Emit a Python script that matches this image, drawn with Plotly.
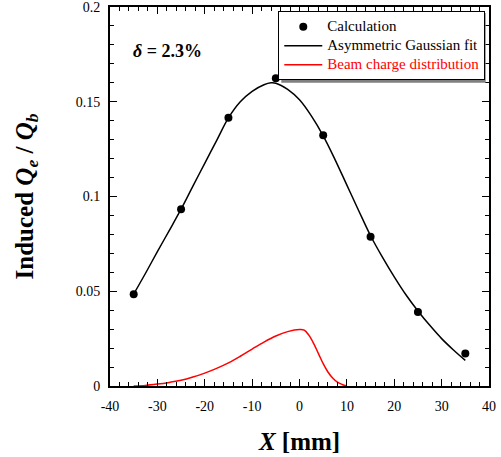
import plotly.graph_objects as go

# Calculation points
calc_x = [-35, -25, -15, -5, 5, 15, 25, 35]
calc_y = [0.0484, 0.0933, 0.1416, 0.1624, 0.1323, 0.0787, 0.0391, 0.0171]

# Asymmetric Gaussian fit
fit_x = [-35, -32.5, -30, -27.5, -25, -22.5, -20, -17.5, -15, -12.5, -10, -7.5, -6, -5,
         -2.5, 0, 2.5, 5, 7.5, 10, 12.5, 15, 17.5, 20, 22.5, 25, 27.5, 30, 32.5, 35]
fit_y = [0.0485, 0.0595, 0.0709, 0.0820, 0.0933, 0.1055, 0.1175, 0.1295, 0.1415, 0.1500,
         0.1555, 0.1590, 0.1600, 0.1598, 0.1565, 0.1510, 0.1425, 0.1320, 0.1195, 0.1060,
         0.0925, 0.0793, 0.0680, 0.0576, 0.0480, 0.0396, 0.0320, 0.0250, 0.0190, 0.0135]

# Beam charge distribution
beam_x = [-35, -32.5, -30, -27.5, -25, -22.5, -20, -17.5, -15, -12.5, -10, -7.5, -5, -2.5,
          0, 1, 2, 3, 4, 5, 6, 7, 8, 9, 10]
beam_y = [0.0, 0.0003, 0.0010, 0.0019, 0.0030, 0.0047, 0.0068, 0.0093, 0.0122, 0.0157,
          0.0195, 0.0232, 0.0264, 0.0287, 0.0298, 0.0295, 0.0267, 0.0224, 0.0171, 0.0118,
          0.0074, 0.0042, 0.0020, 0.0008, 0.0]

x_ticks = [-40, -30, -20, -10, 0, 10, 20, 30, 40]
x_tick_labels = ["-40", "-30", "-20", "-10", "0", "10", "20", "30", "40"]
y_ticks = [0, 0.05, 0.1, 0.15, 0.2]
y_tick_labels = ["0", "0.05", "0.1", "0.15", "0.2"]

FONT = "Liberation Serif"


def big(name, color="black"):
    return f'<span style="font-size:15px;color:{color}">{name}</span>'


fig = go.Figure()
fig.add_trace(go.Scatter(x=calc_x, y=calc_y, mode="markers", name=big("Calculation"),
                         marker=dict(color="black", size=8)))
fig.add_trace(go.Scatter(x=fit_x, y=fit_y, mode="lines", name=big("Asymmetric Gaussian fit"),
                         line=dict(color="black", width=1.5, shape="spline")))
fig.add_trace(go.Scatter(x=beam_x, y=beam_y, mode="lines",
                         name=big("Beam charge distribution", "red"),
                         line=dict(color="red", width=1.5, shape="spline")))

axis_common = dict(showgrid=False, zeroline=False, showline=True, linecolor="black",
                   linewidth=2, mirror="allticks", ticks="inside", ticklen=7,
                   tickwidth=1, tickcolor="black", automargin=False,
                   ticklabeloverflow="allow",
                   tickfont=dict(family=FONT, size=14, color="black"))

fig.update_xaxes(range=[-40, 40], tickvals=x_ticks, ticktext=x_tick_labels,
                 ticklabelstandoff=6,
                 minor=dict(ticks="inside", dtick=2, ticklen=4, tickcolor="black"),
                 title=dict(text="<b><i>X</i> [mm]</b>",
                            font=dict(family=FONT, size=25, color="black"), standoff=20),
                 **axis_common)
fig.update_yaxes(range=[0, 0.2], tickvals=y_ticks, ticktext=y_tick_labels,
                 ticklabelstandoff=5,
                 minor=dict(ticks="inside", dtick=0.01, ticklen=4, tickcolor="black"),
                 title=dict(text="<b>Induced <i>Q</i><sub><i>e</i></sub> / <i>Q</i><sub><i>b</i></sub></b>",
                            font=dict(family=FONT, size=25, color="black"), standoff=35),
                 **axis_common)

fig.add_annotation(xref="paper", yref="paper", x=0.0556, y=0.8846, xanchor="left", yanchor="middle",
                   text="<b><i>δ</i> = 2.3%</b>", showarrow=False,
                   font=dict(family=FONT, size=18, color="black"))

# legend drop shadow
fig.add_shape(type="rect", xref="paper", yref="paper", layer="above",
              x0=0.452, x1=0.9913, y0=0.8, y1=0.9842,
              fillcolor="#808080", line=dict(width=0))

fig.update_layout(
    width=501, height=457,
    margin=dict(l=110, r=12, t=7, b=71),
    paper_bgcolor="white", plot_bgcolor="white",
    showlegend=True,
    legend=dict(x=0.444, y=0.989, xanchor="left", yanchor="top",
                bgcolor="white", bordercolor="black", borderwidth=1,
                font=dict(family=FONT, size=12, color="black"),
                itemwidth=38, tracegroupgap=0),
)

fig.write_html("out.html")
